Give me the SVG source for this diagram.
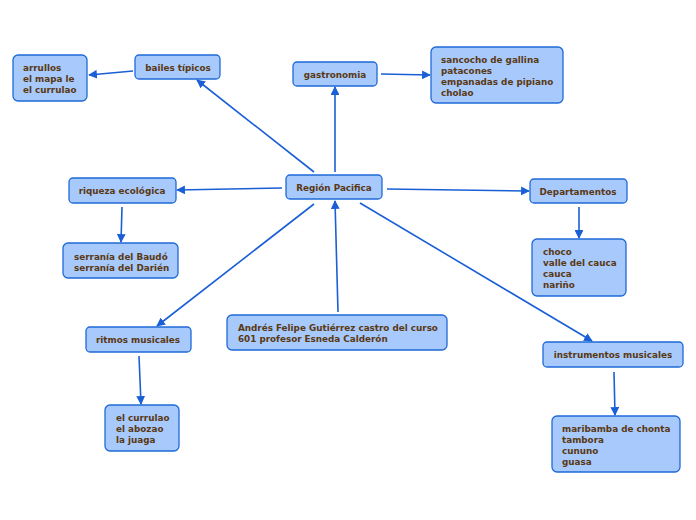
<svg xmlns="http://www.w3.org/2000/svg" width="696" height="520" viewBox="0 0 696 520">
<defs>
<style>
.n{fill:#a7c9fb;stroke:#1f6ad8;stroke-width:1.3}
text{font-family:"DejaVu Sans",sans-serif;font-weight:bold;font-size:8.8px;fill:#5a3812}
.c{text-anchor:middle}
.e{stroke:#1a5fd6;stroke-width:1.6;fill:none;marker-end:url(#a)}
</style>
<marker id="a" viewBox="0 0 10 10" refX="9" refY="5" markerWidth="5.5" markerHeight="5.5" orient="auto" markerUnits="strokeWidth">
<path d="M0,0L10,5L0,10z" fill="#1a5fd6"/>
</marker>
</defs>
<rect width="696" height="520" fill="#fff"/>
<g id="connectors">
<line class="e" x1="314" y1="172" x2="197" y2="80"/>
<line class="e" x1="335" y1="172" x2="335" y2="87"/>
<line class="e" x1="381" y1="74" x2="430" y2="75"/>
<line class="e" x1="133" y1="71" x2="89" y2="75"/>
<line class="e" x1="282" y1="188" x2="177" y2="190"/>
<line class="e" x1="387" y1="189" x2="529" y2="191"/>
<line class="e" x1="122" y1="207" x2="121" y2="242"/>
<line class="e" x1="579" y1="207" x2="579" y2="238"/>
<line class="e" x1="314" y1="204" x2="157" y2="326"/>
<line class="e" x1="338" y1="312" x2="335" y2="201"/>
<line class="e" x1="360" y1="203" x2="592" y2="341"/>
<line class="e" x1="139" y1="356" x2="141" y2="404"/>
<line class="e" x1="614" y1="372" x2="615" y2="415"/>
</g>
<g id="bailes"><rect class="n" x="135" y="55" width="85" height="24" rx="4"/><text class="c" x="178" y="71">bailes típicos</text></g>
<g id="arrullos"><rect class="n" x="13" y="55" width="74" height="46" rx="5"/><text x="23" y="71">arrullos</text><text x="23" y="82">el mapa le</text><text x="23" y="93">el currulao</text></g>
<g id="gastronomia"><rect class="n" x="293" y="62" width="84" height="24" rx="4"/><text class="c" x="335" y="78">gastronomia</text></g>
<g id="sancocho"><rect class="n" x="431" y="47" width="132" height="56" rx="5"/><text x="441" y="63">sancocho de gallina</text><text x="441" y="74">patacones</text><text x="441" y="85">empanadas de pipiano</text><text x="441" y="96">cholao</text></g>
<g id="region"><rect class="n" x="286" y="175" width="96" height="24" rx="4"/><text class="c" x="334" y="191">Región Pacifica</text></g>
<g id="riqueza"><rect class="n" x="69" y="178" width="107" height="25" rx="4"/><text class="c" x="122" y="194">riqueza ecológica</text></g>
<g id="serrania"><rect class="n" x="63" y="243" width="115" height="35" rx="5"/><text x="74" y="260">serranía del Baudó</text><text x="74" y="271">serranía del Darién</text></g>
<g id="departamentos"><rect class="n" x="530" y="179" width="97" height="24" rx="4"/><text class="c" x="578" y="195">Departamentos</text></g>
<g id="choco"><rect class="n" x="532" y="239" width="94" height="57" rx="5"/><text x="543" y="255">choco</text><text x="543" y="266">valle del cauca</text><text x="543" y="277">cauca</text><text x="543" y="288">nariño</text></g>
<g id="ritmos"><rect class="n" x="86" y="327" width="105" height="25" rx="4"/><text class="c" x="138" y="343">ritmos musicales</text></g>
<g id="andres"><rect class="n" x="227" y="315" width="220" height="35" rx="5"/><text x="238" y="331">Andrés Felipe Gutiérrez castro del curso</text><text x="238" y="342">601 profesor Esneda Calderón</text></g>
<g id="currulao"><rect class="n" x="105" y="405" width="74" height="46" rx="5"/><text x="116" y="421">el currulao</text><text x="116" y="432">el abozao</text><text x="116" y="443">la juaga</text></g>
<g id="instrumentos"><rect class="n" x="543" y="342" width="140" height="25" rx="4"/><text class="c" x="613" y="358">instrumentos musicales</text></g>
<g id="maribamba"><rect class="n" x="552" y="416" width="128" height="56" rx="5"/><text x="562" y="432">maribamba de chonta</text><text x="562" y="443">tambora</text><text x="562" y="454">cununo</text><text x="562" y="465">guasa</text></g>
</svg>
